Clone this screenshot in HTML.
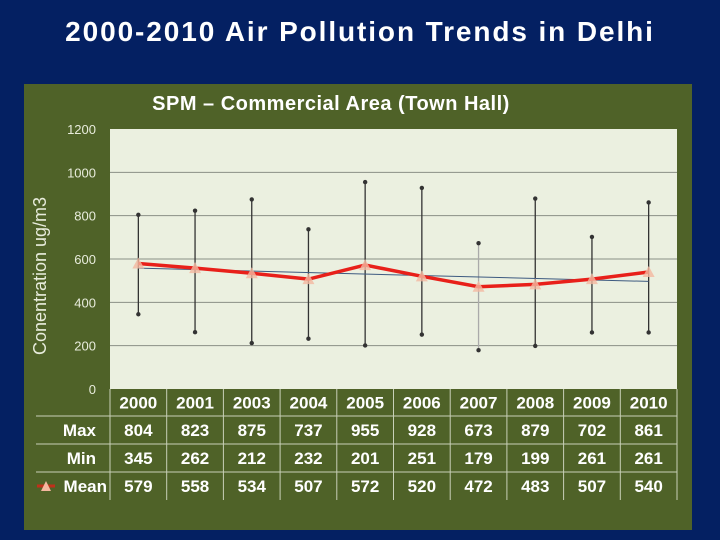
<!DOCTYPE html>
<html><head><meta charset="utf-8"><style>
body{margin:0;width:720px;height:540px;background:#042062;overflow:hidden;font-family:"Liberation Sans",sans-serif}
#title{position:absolute;left:0;top:16px;width:720px;text-align:center;color:#fff;font-weight:bold;font-size:28px;letter-spacing:1.9px}
</style></head><body>
<div id="title">2000-2010 Air Pollution Trends in Delhi</div>
<svg id="c" width="720" height="540" style="position:absolute;left:0;top:0"></svg>
<script>
const years=["2000","2001","2003","2004","2005","2006","2007","2008","2009","2010"];
const maxV=[804,823,875,737,955,928,673,879,702,861];
const minV=[345,262,212,232,201,251,179,199,261,261];
const meanV=[579,558,534,507,572,520,472,483,507,540];
const yTicks=[0,200,400,600,800,1000,1200];
const NS="http://www.w3.org/2000/svg";
const svg=document.getElementById('c');
function el(t,a,p){const e=document.createElementNS(NS,t);for(const k in a)e.setAttribute(k,a[k]);(p||svg).appendChild(e);return e;}
const X0=110,X1=677,Y0=389,Y1=129,cw=(X1-X0)/years.length;
const x=i=>X0+cw*(i+0.5), y=v=>Y0-(v/1200)*(Y0-Y1);
let e=el('rect',{x:24,y:84,width:668,height:446,fill:'#4f6228'});

e=el('text',{x:331,y:110,fill:'#fff','font-size':20,'font-weight':'bold','text-anchor':'middle','letter-spacing':0.5});e.textContent='SPM – Commercial Area (Town Hall)';

e=el('rect',{x:X0,y:Y1,width:X1-X0,height:Y0-Y1,fill:'#ebf0e0'});

yTicks.forEach(v=>{
 if(v>0&&v<1200){e=el('line',{x1:X0,x2:X1,y1:y(v),y2:y(v),stroke:'#8a8f86','stroke-width':1});}
 e=el('text',{x:96,y:y(v)+5,fill:'#e8ecdc','font-size':13,'text-anchor':'end'});e.textContent=v;
 
});
e=el('text',{x:0,y:0,fill:'#e8ecdc','font-size':18,'text-anchor':'middle',transform:'translate(46,276) rotate(-90)'});e.textContent='Conentration ug/m3';

years.forEach((yr,i)=>{
 e=el('line',{x1:x(i),x2:x(i),y1:y(maxV[i]),y2:y(minV[i]),stroke:i==6?'#aaa':'#333','stroke-width':1.3});
 
 [maxV[i],minV[i]].forEach(v=>{e=el('circle',{cx:x(i),cy:y(v),r:2.2,fill:'#333'});});
});
const n=meanV.length,mx=(n-1)/2,my=meanV.reduce((a,b)=>a+b)/n;
let sxy=0,sxx=0;meanV.forEach((v,i)=>{sxy+=(i-mx)*(v-my);sxx+=(i-mx)*(i-mx);});
const b=sxy/sxx,a=my-b*mx;
e=el('line',{x1:x(0),x2:x(n-1),y1:y(a),y2:y(a+b*(n-1)),stroke:'#3d5a80','stroke-width':1});

e=el('polyline',{points:meanV.map((v,i)=>x(i)+','+y(v)).join(' '),fill:'none',stroke:'#e8201a','stroke-width':3.5});

meanV.forEach((v,i)=>{e=el('polygon',{points:`${x(i)-6},${y(v)+5} ${x(i)+6},${y(v)+5} ${x(i)},${y(v)-6}`,fill:'#f4b8a0',opacity:0.8});
 });
const rows=[years,maxV,minV,meanV],labels=['','Max','Min','Mean'],rt=[389,416,444,472,500];
for(let r=0;r<4;r++){
 const cy=(rt[r]+rt[r+1])/2+6;
 if(r>0){e=el('line',{x1:36,x2:X1,y1:rt[r],y2:rt[r],stroke:'#c8d0b8','stroke-width':1});
  e=el('text',{x:r==3?107:96,y:cy,fill:'#fff','font-size':17,'font-weight':'bold','text-anchor':'end'});e.textContent=labels[r];}
 rows[r].forEach((v,i)=>{e=el('text',{x:x(i),y:cy,fill:'#fff','font-size':17,'font-weight':'bold','text-anchor':'middle'});e.textContent=v;
  });
}
for(let i=0;i<=years.length;i++){e=el('line',{x1:X0+cw*i,x2:X0+cw*i,y1:389,y2:500,stroke:'#c8d0b8','stroke-width':1});}
e=el('line',{x1:37,x2:55,y1:486,y2:486,stroke:'#c0301a','stroke-width':3});
e=el('polygon',{points:'41,491 51,491 46,481',fill:'#f4b8a0'});
</script></body></html>
